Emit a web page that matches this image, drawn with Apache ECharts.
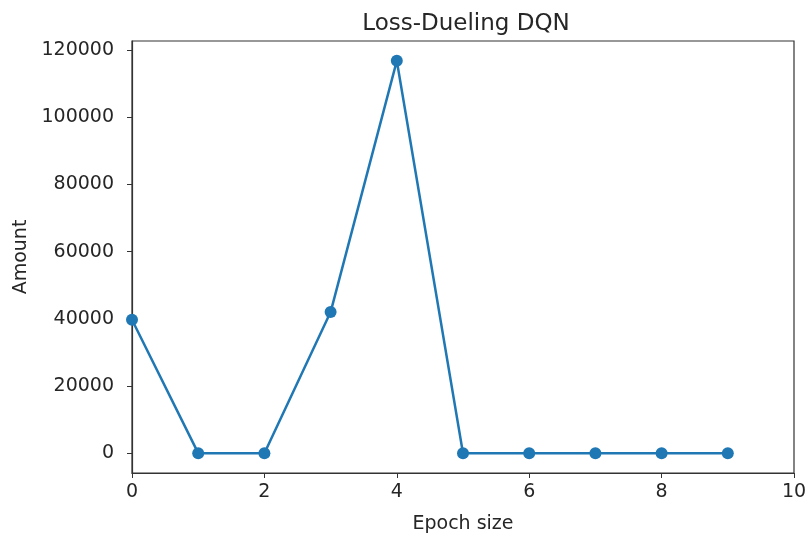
<!DOCTYPE html>
<html>
<head>
<meta charset="utf-8">
<script src="https://cdn.jsdelivr.net/npm/echarts@6/dist/echarts.min.js"></script>
<style>html,body{margin:0;padding:0;background:#fff}#c{width:806px;height:541px}</style>
</head>
<body>
<div id="c"></div>
<script>
var epochs = [0, 1, 2, 3, 4, 5, 6, 7, 8, 9];
var amounts = [39700, 0, 0, 42000, 116800, 0, 0, 0, 0, 0];
var yTicks = [0, 20000, 40000, 60000, 80000, 100000, 120000];
var xTicks = [0, 2, 4, 6, 8, 10];

var chart = echarts.init(document.getElementById('c'));
var font = 'DejaVu Sans';
var axisColor = '#333';
var textColor = '#262626';
chart.setOption({
  animation: false,
  backgroundColor: '#fff',
  title: {
    text: 'Loss-Dueling DQN',
    left: 461, top: 8, textAlign: 'center',
    textStyle: {fontFamily: font, fontSize: 23, fontWeight: 'normal', color: textColor}
  },
  grid: {left: 132, top: 41, right: 12, bottom: 68, outerBoundsMode: 'none', containLabel: false,
    show: true, borderColor: axisColor, borderWidth: 1.2, backgroundColor: 'transparent'},
  xAxis: {
    type: 'value', min: 0, max: 10, interval: 2,
    name: 'Epoch size', nameLocation: 'middle', nameGap: 42,
    nameTextStyle: {fontFamily: font, fontSize: 19, color: textColor},
    axisLine: {show: true, onZero: false, lineStyle: {color: axisColor, width: 1.2}},
    axisTick: {show: true, inside: false, length: 5, lineStyle: {color: axisColor}, customValues: xTicks},
    axisLabel: {fontFamily: font, fontSize: 19, color: textColor, margin: 10, customValues: xTicks,
      formatter: function (v) { return String(v); }},
    splitLine: {show: false}
  },
  yAxis: {
    type: 'value', min: -5900, max: 122700,
    name: 'Amount', nameLocation: 'middle', nameGap: 100, nameRotate: 90,
    nameTextStyle: {fontFamily: font, fontSize: 19, color: textColor},
    axisLine: {show: true, onZero: false, lineStyle: {color: axisColor, width: 1.2}},
    axisTick: {show: true, inside: false, length: 5, lineStyle: {color: axisColor}, customValues: yTicks},
    axisLabel: {fontFamily: font, fontSize: 19, color: textColor, margin: 18, customValues: yTicks,
      formatter: function (v) { return String(v); }},
    splitLine: {show: false}
  },
  series: [{
    type: 'line',
    data: epochs.map(function (e, i) { return [e, amounts[i]]; }),
    symbol: 'circle', symbolSize: 12,
    lineStyle: {color: '#1f77b4', width: 2.5},
    itemStyle: {color: '#1f77b4'},
    clip: false
  }]
});
</script>
</body>
</html>
